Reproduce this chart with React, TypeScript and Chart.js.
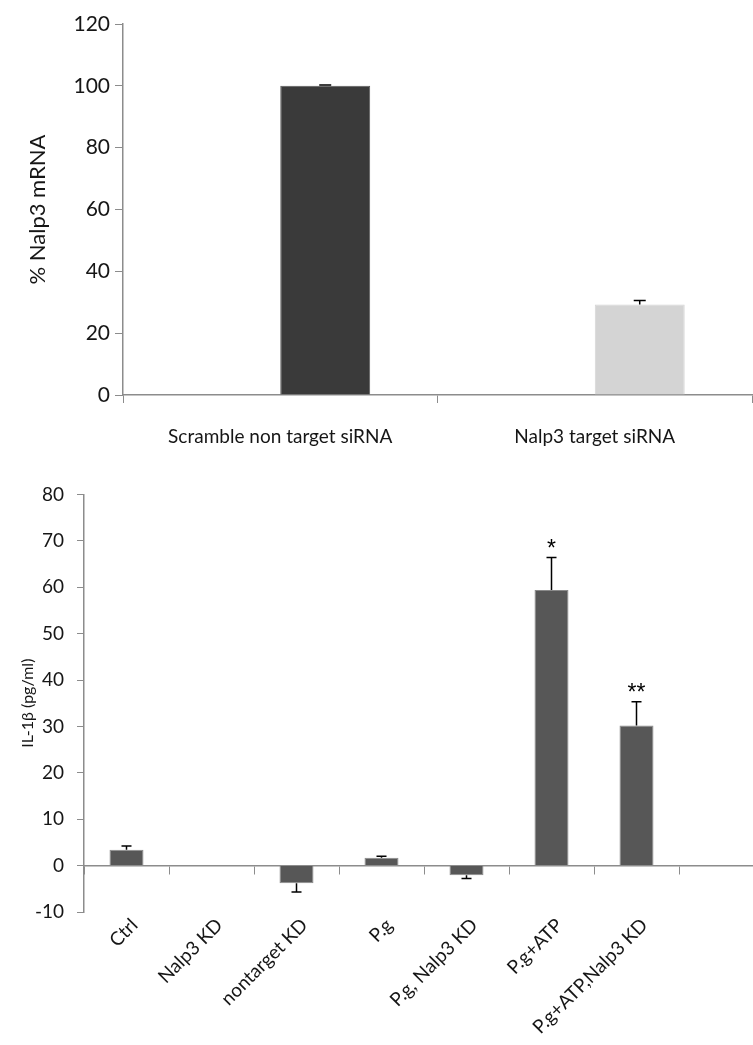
import React, { useEffect, useRef } from "react";
import { Chart, registerables } from "chart.js";

Chart.register(...registerables);

// ---- Top chart data ----
const topCategories = ["Scramble non target siRNA", "Nalp3 target siRNA"];
const topValues = [100, 29.3];
const topErrors = [0.3, 1.3];
const topColors = ["#3a3a3a", "#d4d4d4"];
const topTicks = [0, 20, 40, 60, 80, 100, 120];

// ---- Bottom chart data ----
const bottomCategories = [
  "Ctrl",
  "Nalp3 KD",
  "nontarget KD",
  "P.g",
  "P.g, Nalp3 KD",
  "P.g+ATP",
  "P.g+ATP,Nalp3 KD",
  "",
];
const bottomValues = [3.4, 0, -3.8, 1.7, -2.1, 59.4, 30.2, null];
const bottomErrors = [0.85, 0, 1.9, 0.3, 0.7, 7.0, 5.1, 0];
const bottomStars = ["", "", "", "", "", "*", "**", ""];
const bottomTicks = [-10, 0, 10, 20, 30, 40, 50, 60, 70, 80];

const AXIS = "#8c8c8c";
const TEXT = "#161616";
const FONT = "Lato";

function errorBarPlugin(
  errors: number[],
  datasetIndex: number,
  capHalf: number,
  stars?: string[]
) {
  return {
    id: "errorBars" + datasetIndex,
    afterDatasetsDraw(chart: any) {
      const meta = chart.getDatasetMeta(datasetIndex);
      const yScale = chart.scales.y;
      const ctx = chart.ctx;
      const data = chart.data.datasets[datasetIndex].data;
      ctx.save();
      ctx.strokeStyle = "#000";
      ctx.lineWidth = 1.5;
      meta.data.forEach((bar: any, i: number) => {
        const v = data[i];
        const e = errors[i];
        if (v == null) return;
        const end = v >= 0 ? v + e : v - e;
        const x = bar.x;
        const y0 = yScale.getPixelForValue(v);
        const y1 = yScale.getPixelForValue(end);
        if (e) {
          ctx.beginPath();
          ctx.moveTo(x, y0);
          ctx.lineTo(x, y1);
          ctx.moveTo(x - capHalf, y1);
          ctx.lineTo(x + capHalf, y1);
          ctx.stroke();
        }
        if (stars && stars[i]) {
          ctx.fillStyle = "#000";
          ctx.font = "23px 'Liberation Sans'";
          ctx.textAlign = "center";
          ctx.textBaseline = "alphabetic";
          ctx.fillText(stars[i], x, y1 - 2);
        }
      });
      ctx.restore();
    },
  };
}

export default function App() {
  const topRef = useRef<HTMLCanvasElement>(null);
  const botRef = useRef<HTMLCanvasElement>(null);

  useEffect(() => {
    Chart.defaults.font.family = FONT;
    Chart.defaults.color = TEXT;

    const top = new Chart(topRef.current!, {
      type: "bar",
      data: {
        labels: topCategories,
        datasets: [
          { label: "spacer", data: [null, null] as any, backgroundColor: "rgba(0,0,0,0)" },
          {
            label: "Nalp3",
            data: topValues,
            backgroundColor: topColors,
            borderColor: ["#5a5a5a", "#d4d4d4"],
            borderWidth: 1,
          },
        ],
      },
      options: {
        responsive: false,
        animation: false,
        devicePixelRatio: 1,
        layout: { padding: { left: 0, right: 1, top: 24, bottom: 0 } },
        plugins: { legend: { display: false }, tooltip: { enabled: false } },
        datasets: { bar: { categoryPercentage: 0.572, barPercentage: 1.0 } },
        scales: {
          x: {
            offset: true,
            grid: { drawOnChartArea: false, tickLength: 8, offset: true, color: AXIS },
            border: { color: AXIS, width: 1.5 },
            ticks: { font: { size: 19 }, color: TEXT, padding: 22, maxRotation: 0, minRotation: 0 },
            afterFit: (s: any) => {
              s.height = 75;
            },
          },
          y: {
            min: 0,
            max: 120,
            afterBuildTicks: (s: any) => {
              s.ticks = topTicks.map((v) => ({ value: v }));
            },
            grid: { drawOnChartArea: false, tickLength: 8, color: AXIS },
            border: { color: AXIS, width: 1.5 },
            ticks: { font: { size: 21 }, color: TEXT, padding: 5 },
            title: {
              display: true,
              text: "% Nalp3 mRNA",
              font: { size: 22 },
              color: TEXT,
              padding: { top: 25, bottom: 0 },
            },
            afterFit: (s: any) => {
              s.width = 123;
            },
          },
        },
      },
      plugins: [errorBarPlugin(topErrors, 1, 6)],
    } as any);

    const bot = new Chart(botRef.current!, {
      type: "bar",
      data: {
        labels: bottomCategories,
        datasets: [
          {
            label: "IL-1b",
            data: bottomValues as any,
            backgroundColor: "#575757",
            borderColor: "#8a8a8a",
            borderWidth: 1,
          },
        ],
      },
      options: {
        responsive: false,
        animation: false,
        devicePixelRatio: 1,
        layout: { padding: { left: 0, right: 6, top: 19, bottom: 0 } },
        plugins: { legend: { display: false }, tooltip: { enabled: false } },
        datasets: { bar: { categoryPercentage: 0.4, barPercentage: 1.0 } },
        scales: {
          x: {
            offset: true,
            grid: { display: false, drawTicks: false },
            border: { display: false },
            ticks: {
              font: { size: 19 },
              color: TEXT,
              padding: 2,
              labelOffset: 8,
              maxRotation: 45,
              minRotation: 45,
              autoSkip: false,
            },
            afterFit: (s: any) => {
              s.height = 133;
            },
          },
          x2: {
            type: "category",
            axis: "x",
            labels: bottomCategories,
            position: { y: 0 },
            offset: true,
            grid: { drawOnChartArea: false, tickLength: 8, offset: true, color: AXIS },
            border: { color: AXIS, width: 1.5 },
            ticks: { display: false },
          },
          y: {
            min: -10,
            max: 80,
            afterBuildTicks: (s: any) => {
              s.ticks = bottomTicks.map((v) => ({ value: v }));
            },
            grid: { drawOnChartArea: false, tickLength: 7, color: AXIS },
            border: { color: AXIS, width: 1.5 },
            ticks: { font: { size: 19 }, color: TEXT, padding: 13 },
            title: {
              display: true,
              text: "IL-1β (pg/ml)",
              font: { size: 16 },
              color: TEXT,
              padding: { top: 18, bottom: 0 },
            },
            afterFit: (s: any) => {
              s.width = 84;
            },
          },
        },
      },
      plugins: [errorBarPlugin(bottomErrors, 0, 5, bottomStars)],
    } as any);

    return () => {
      top.destroy();
      bot.destroy();
    };
  }, []);

  return (
    <div
      style={{
        position: "absolute",
        left: 0,
        top: 0,
        width: 753,
        height: 1045,
        overflow: "hidden",
        background: "#fff",
      }}
    >
      <canvas
        ref={topRef}
        width={753}
        height={470}
        style={{ position: "absolute", left: 0, top: 0, width: 753, height: 470 }}
      />
      <canvas
        ref={botRef}
        width={770}
        height={575}
        style={{ position: "absolute", left: 0, top: 470, width: 770, height: 575 }}
      />
    </div>
  );
}
